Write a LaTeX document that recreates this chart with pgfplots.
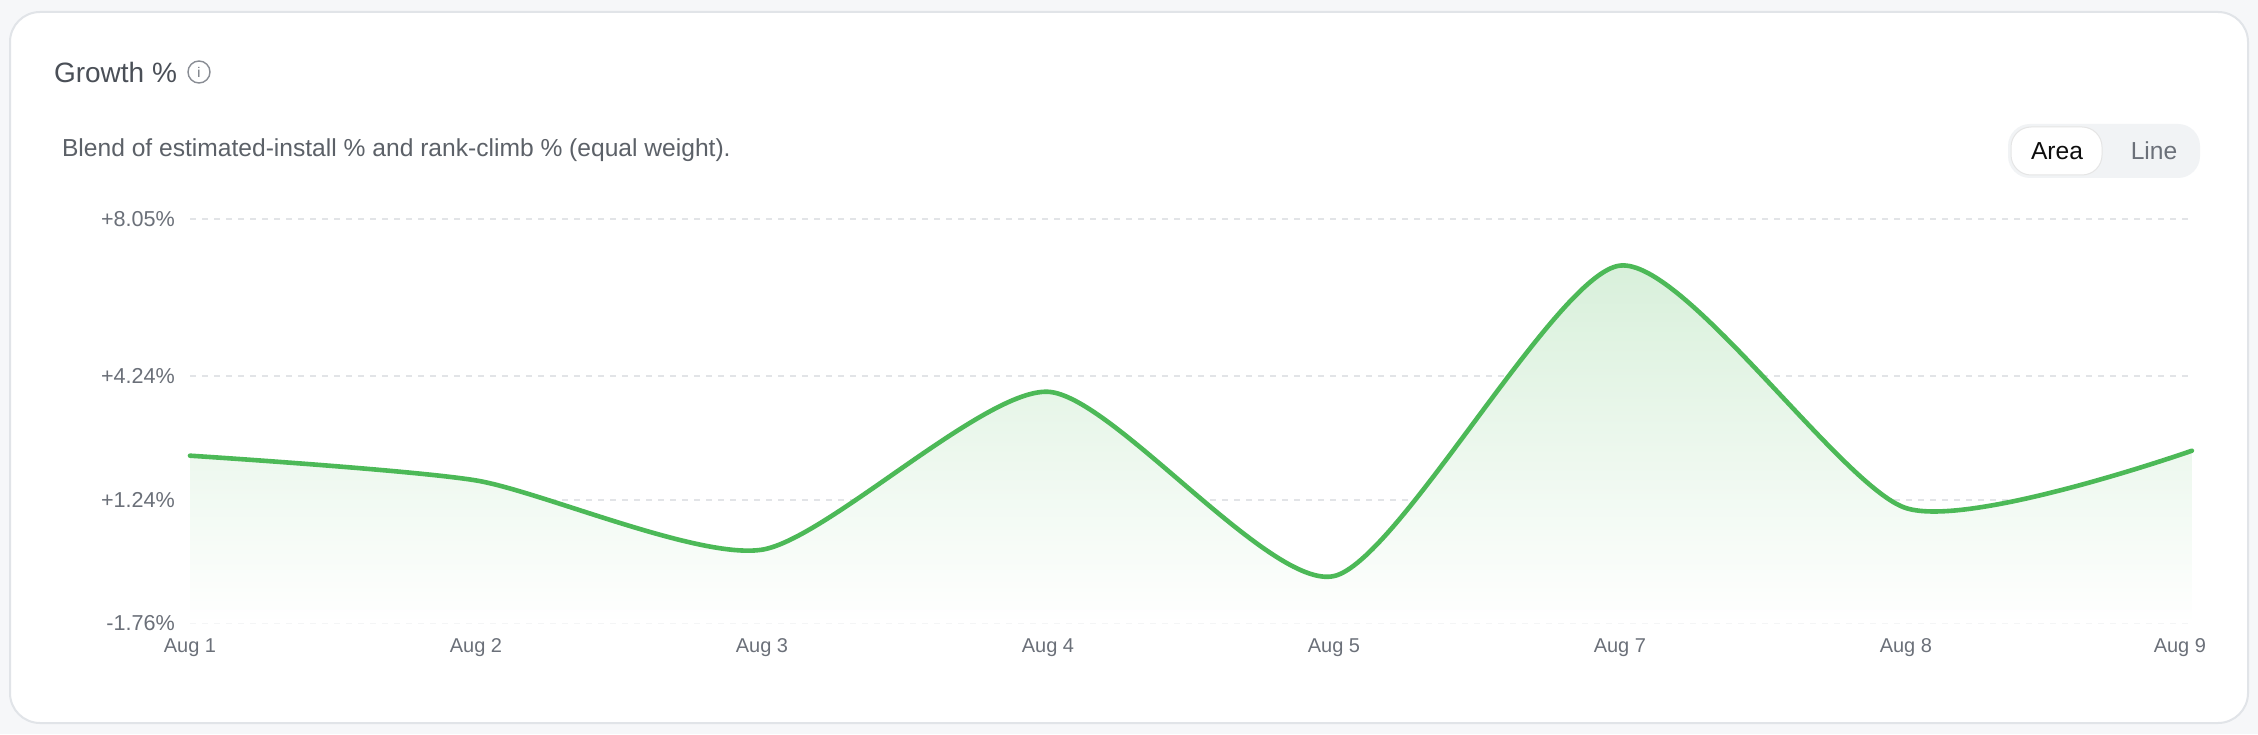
\documentclass[border=0pt]{standalone}
\usepackage{fontspec}
\setmainfont{Liberation Sans}
\usepackage{pgfplots}
\pgfplotsset{compat=1.18}

\definecolor{linegreen}{HTML}{4CB957}
\definecolor{gridgray}{HTML}{E2E4E7}
\definecolor{ticktext}{HTML}{6B7079}
\definecolor{titletext}{HTML}{4A4F57}
\definecolor{subtext}{HTML}{5C6168}
\definecolor{cardborder}{HTML}{E1E4E8}
\definecolor{pagebg}{HTML}{F6F7F9}
\definecolor{pillbg}{HTML}{F1F3F5}

\begin{document}
\begin{tikzpicture}[x=1pt,y=1pt]
\path[use as bounding box] (0,0) rectangle (1129,367);
\fill[pagebg] (0,0) rectangle (1129,367);
\draw[cardborder, fill=white, line width=1pt, rounded corners=15pt] (5,5.5) rectangle (1124,361);

% header
\node[anchor=west, text=titletext, font=\fontsize{14}{17}\selectfont] at (23.5,331) {Growth \%};
\draw[ticktext!80, line width=0.7pt] (99.5,331) circle (5.5);
\node[text=ticktext, font=\fontsize{7}{8}\selectfont] at (99.5,331) {i};
\node[anchor=west, text=subtext, font=\fontsize{12.3}{15}\selectfont] at (27.5,292) {Blend of estimated-install \% and rank-climb \% (equal weight).};

% area / line toggle
\fill[pillbg, rounded corners=11pt] (1004,278) rectangle (1100,305);
\draw[black!10, fill=white, line width=0.5pt, rounded corners=10pt] (1005.5,279.5) rectangle (1051,303.5);
\node[text=black!95, font=\fontsize{12.3}{15}\selectfont] at (1028.5,291.5) {Area};
\node[text=ticktext, font=\fontsize{12.3}{15}\selectfont] at (1077,291.5) {Line};

\begin{axis}[
  at={(95pt,55.25pt)}, anchor=south west,
  scale only axis, width=1001pt, height=202.25pt,
  xmin=0, xmax=7, ymin=-1.76, ymax=8.05,
  clip=false,
  axis line style={draw=none},
  tick style={draw=none},
  xtick={0,...,7},
  xticklabels={Aug 1,Aug 2,Aug 3,Aug 4,Aug 5,Aug 7,Aug 8,Aug 9\hspace*{12pt}},
  ytick={-1.76,1.24,4.24,8.05},
  yticklabels={-1.76\%,+1.24\%,+4.24\%,+8.05\%},
  ymajorgrids,
  major grid style={gridgray, line width=0.8pt, dash pattern=on 3pt off 3pt},
  tick label style={text=ticktext},
  xticklabel style={anchor=center, yshift=-12pt, font=\fontsize{10}{12}\selectfont},
  yticklabel style={anchor=east, xshift=-4pt, font=\fontsize{10.8}{12}\selectfont},
]
\addplot[smooth, tension=0.4, draw=none, top color=linegreen!22!white, bottom color=white]
  coordinates {(0,2.31)(1,1.71)(2,0.03)(3,3.86)(4,-0.61)(5,6.92)(6,1.04)(7,2.43)}
  -- (axis cs:7,-1.76) -- (axis cs:0,-1.76) -- cycle;
\addplot[smooth, tension=0.4, draw=linegreen, line width=2.3pt, line cap=round]
  coordinates {(0,2.31)(1,1.71)(2,0.03)(3,3.86)(4,-0.61)(5,6.92)(6,1.04)(7,2.43)};
\end{axis}
\end{tikzpicture}
\end{document}
